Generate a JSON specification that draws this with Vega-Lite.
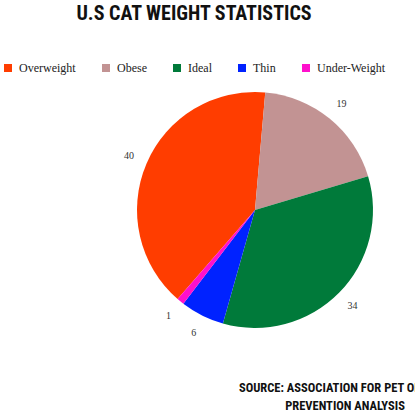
{
  "$schema": "https://vega.github.io/schema/vega-lite/v6.json",
  "width": 318,
  "height": 234,
  "autosize": {"type": "none"},
  "padding": {"left": 96, "top": 93, "right": 1, "bottom": 88},
  "background": "white",
  "config": {"view": {"stroke": null}},
  "title": {
    "text": ["SOURCE: ASSOCIATION FOR PET OBESITY", "PREVENTION ANALYSIS"],
    "orient": "bottom",
    "anchor": "middle",
    "frame": "group",
    "dx": 90,
    "offset": 44,
    "font": "Roboto Condensed, Roboto",
    "fontSize": 12.5,
    "fontWeight": "bold",
    "lineHeight": 18,
    "color": "#111111"
  },
  "data": {
    "values": [
      {"category": "Overweight", "value": 40},
      {"category": "Obese", "value": 19},
      {"category": "Ideal", "value": 34},
      {"category": "Thin", "value": 6},
      {"category": "Under-Weight", "value": 1}
    ]
  },
  "transform": [{"window": [{"op": "row_number", "as": "idx"}]}],
  "encoding": {
    "theta": {"field": "value", "type": "quantitative", "stack": true, "scale": {"range": [-2.426, 3.857]}},
    "order": {"field": "idx", "type": "quantitative"}
  },
  "layer": [
    {
      "mark": {"type": "arc", "outerRadius": 118},
      "encoding": {
        "color": {
          "field": "category",
          "type": "nominal",
          "scale": {
            "domain": ["Overweight", "Obese", "Ideal", "Thin", "Under-Weight"],
            "range": ["#FF3D00", "#C29393", "#007A3A", "#0022FF", "#FF10CC"]
          },
          "legend": {
            "orient": "none",
            "legendX": -94,
            "legendY": -89,
            "direction": "horizontal",
            "title": "U.S CAT WEIGHT STATISTICS",
            "titleOrient": "top",
            "titleAnchor": "middle",
            "titleFont": "Roboto Condensed, Roboto",
            "titleFontSize": 20,
            "titleFontWeight": "bold",
            "titleColor": "#111111",
            "titleLimit": 400,
            "titlePadding": 38,
            "labelFont": "Liberation Serif",
            "labelFontSize": 12,
            "labelColor": "#222222",
            "symbolType": "square",
            "symbolSize": 64,
            "symbolStrokeWidth": 0,
            "symbolOpacity": 1,
            "columnPadding": 24,
            "labelOffset": 5
          }
        }
      }
    },
    {
      "mark": {"type": "text", "radius": 137, "font": "Liberation Serif", "fontSize": 10},
      "encoding": {
        "text": {"field": "value", "type": "quantitative"},
        "detail": {"field": "category", "type": "nominal"},
        "color": {"value": "#333333"}
      }
    }
  ]
}
